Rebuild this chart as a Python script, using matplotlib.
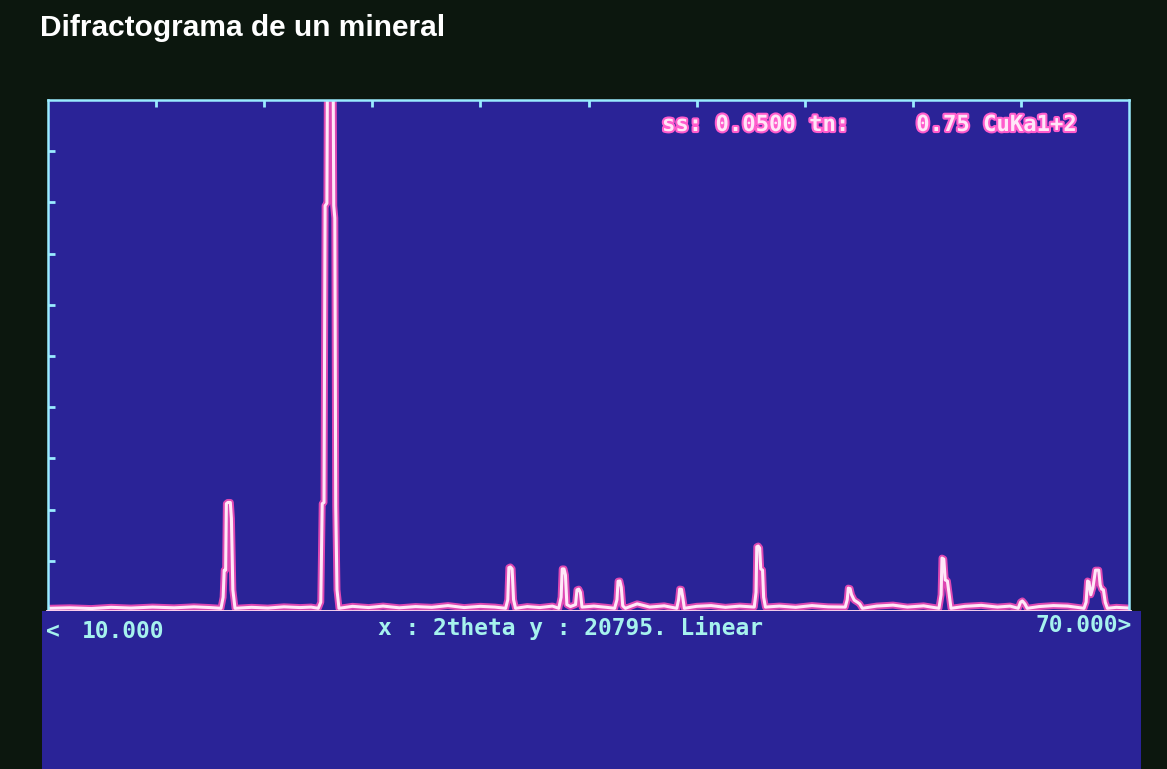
import matplotlib
matplotlib.use("Agg")
import matplotlib.pyplot as plt
import matplotlib.patheffects as pe
from matplotlib.patches import Rectangle

# ---- data ----
# 2theta (deg) / counts vertices of the trace
two_theta = [
    10.0, 11.2, 12.4, 13.5, 14.6, 15.8, 17.0, 18.1, 19.0, 19.6,
    19.72, 19.78, 19.86, 19.9, 19.98, 20.12, 20.18, 20.26, 20.38,
    21.3, 22.2, 23.1, 24.0, 24.6, 25.0,
    25.14, 25.22, 25.32, 25.38, 25.48, 25.53, 25.8, 25.86, 25.92, 25.97, 26.04, 26.15,
    26.9, 27.8, 28.6, 29.5, 30.4, 31.3, 32.2, 33.1, 34.0, 34.8, 35.4,
    35.52, 35.58, 35.66, 35.76, 35.84, 35.95,
    36.6, 37.3, 38.0, 38.35,
    38.48, 38.54, 38.64, 38.72, 38.8, 39.0, 39.28, 39.36, 39.46, 39.55, 39.64,
    40.3, 41.0, 41.45,
    41.58, 41.64, 41.74, 41.82, 41.9, 42.05,
    42.7, 43.4, 44.2, 44.9,
    45.0, 45.06, 45.16, 45.23, 45.32,
    46.0, 46.8, 47.6, 48.4, 49.2,
    49.3, 49.34, 49.42, 49.5, 49.56, 49.66, 49.72, 49.82,
    50.6, 51.5, 52.4, 53.3, 54.25,
    54.36, 54.42, 54.52, 54.6, 54.75, 54.92, 55.05, 55.2,
    56.0, 56.9, 57.7, 58.6, 59.45,
    59.57, 59.62, 59.72, 59.8, 59.92, 60.02, 60.12,
    60.9, 61.8, 62.7, 63.4, 63.85,
    63.98, 64.08, 64.22, 64.35,
    65.0, 65.8, 66.6, 67.5,
    67.62, 67.7, 67.78, 67.88, 68.0, 68.14, 68.32, 68.4, 68.48, 68.58, 68.68, 68.8,
    69.3, 70.0,
]
counts = [
    150, 170, 140, 190, 160, 200, 170, 210, 180, 150,
    600, 1700, 1700, 4400, 4450, 4450, 3800, 900, 150,
    190, 160, 210, 180, 200, 150,
    400, 4400, 4450, 16500, 16600, 26000, 26000, 16500, 16000, 4300, 900, 150,
    230, 180, 240, 170, 220, 190, 260, 180, 230, 200, 150,
    500, 1800, 1830, 1750, 500, 150,
    220, 180, 240, 150,
    600, 1750, 1750, 1500, 300, 220, 300, 900, 930, 800, 200,
    240, 190, 150,
    500, 1250, 1260, 1000, 250, 150,
    330, 200, 250, 150,
    500, 930, 920, 600, 150,
    230, 260, 190, 240, 200,
    800, 2650, 2680, 2600, 1750, 1700, 600, 200,
    240, 190, 260, 210, 200,
    500, 970, 950, 700, 480, 400, 330, 150,
    240, 280, 200, 250, 150,
    700, 2190, 2150, 1300, 1260, 700, 150,
    230, 270, 200, 240, 150,
    400, 450, 330, 150,
    220, 260, 240, 150,
    400, 1260, 1220, 700, 1000, 1700, 1700, 1100, 930, 900, 400, 150,
    190, 160,
]

x_min, x_max = 10.0, 70.0
y_max = 20795

title = "Difractograma de un mineral"
header = "ss: 0.0500 tn:     0.75 CuKa1+2"
footer_left = "10.000"
footer_mid = "x : 2theta y : 20795. Linear"
footer_right = "70.000>"

W, H = 1167, 769
bg = "#0c170e"
screen = "#2a2397"
frame_col = "#9aecff"
cyan_txt = "#a6f2ee"

fig = plt.figure(figsize=(W / 100, H / 100), dpi=100, facecolor=bg)

def fx(px):
    return px / W

def fy(py):
    return 1 - py / H

# blue band under the plot
fig.patches.append(Rectangle((fx(42), 0), fx(1141) - fx(42), fy(611), transform=fig.transFigure,
                             facecolor=screen, edgecolor="none", zorder=0))

ax = fig.add_axes([fx(48), fy(612), fx(1129) - fx(48), fy(100) - fy(612)])
ax.set_facecolor(screen)

# CRT trace: pink glow + light core
ax.plot(two_theta, counts, color="#ff4fb8", lw=5, alpha=0.85, solid_joinstyle="round")
ax.plot(two_theta, counts, color="#ffe8f8", lw=2.2, solid_joinstyle="round")

ax.set_xlim(x_min, x_max)
ax.set_ylim(0, y_max)

for s in ["left", "right", "top"]:
    ax.spines[s].set_color(frame_col)
    ax.spines[s].set_linewidth(1.8)
ax.spines["bottom"].set_color("#ffd8f0")
ax.spines["bottom"].set_linewidth(3.5)

ax.set_yticks([y_max * i / 10 for i in range(1, 10)])
ax.set_xticks([x_min + (x_max - x_min) * i / 10 for i in range(1, 10)])
ax.tick_params(axis="y", direction="in", length=5, width=2, color=frame_col,
               left=True, right=False, labelleft=False)
ax.tick_params(axis="x", direction="in", length=5, width=2, color=frame_col,
               top=True, bottom=False, labelbottom=False, labeltop=False)

# texts
fig.text(fx(40), fy(28), title, color="white", fontsize=21.5, fontweight="bold",
         family="Liberation Sans", va="center", ha="left")

mono = dict(family="DejaVu Sans Mono", fontweight="bold", va="center")
fig.text(fx(662), fy(125), header, color="#ffe6f8", ha="left", fontsize=16,
         path_effects=[pe.withStroke(linewidth=3, foreground="#ff5ccc")], **mono)
fig.text(fx(46), fy(632), "<", color=cyan_txt, ha="left", fontsize=16.5, **mono)
fig.text(fx(82), fy(632), footer_left, color=cyan_txt, ha="left", fontsize=16.5, **mono)
fig.text(fx(378), fy(628), footer_mid, color=cyan_txt, ha="left", fontsize=16.5, **mono)
fig.text(fx(1132), fy(625), footer_right, color=cyan_txt, ha="right", fontsize=16.5, **mono)

fig.savefig("out.png", dpi=100, facecolor=bg)
